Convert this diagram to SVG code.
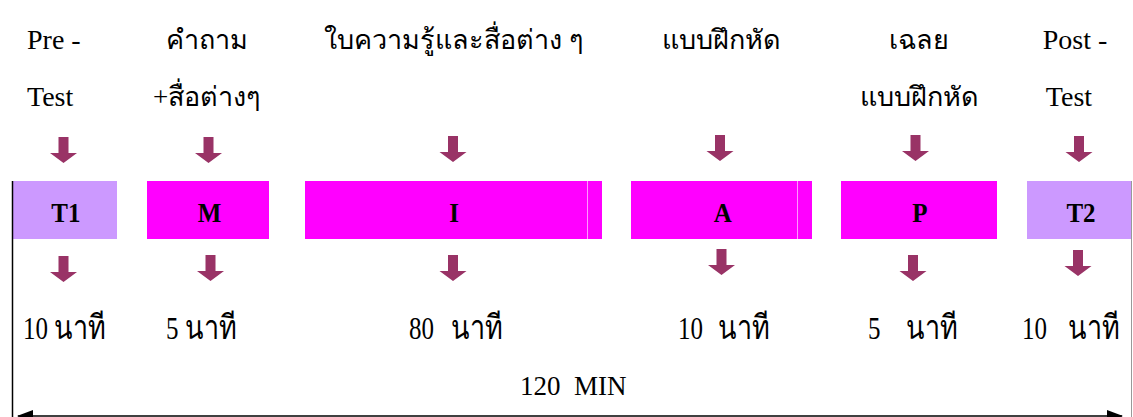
<svg xmlns="http://www.w3.org/2000/svg" width="1133" height="417" viewBox="0 0 1133 417">
<style>
text{font-family:"Liberation Serif",serif;fill:#000;white-space:pre}
.lt{font-size:28px}
.th{font-size:27px;font-weight:300}
.dg{font-size:25px}
.box-t{font-size:25px;font-weight:bold;text-anchor:middle}
.mag{fill:#FF00FF}
.lil{fill:#CC99FF}
.arr{fill:#993366}
.div{stroke:#FF99FF;stroke-width:1}
</style>
<defs>
<path id="da" d="M-5,0 H5 V16 H13.5 L0,26 L-13.5,16 H-5 Z"/>
<marker id="ah" viewBox="0 0 16 12" refX="15" refY="6" markerWidth="16" markerHeight="12" markerUnits="userSpaceOnUse" orient="auto-start-reverse">
<path d="M0,0 L16,6 L0,12 Z" fill="#000"/>
</marker>
</defs>
<rect width="1133" height="417" fill="#fff"/>

<g id="labels-top">
<text class="lt" x="27" y="49">Pre -</text>
<text class="lt" x="27" y="106">Test</text>
<text class="th" x="207" y="49" text-anchor="middle">คำถาม</text>
<text class="th" x="207" y="106" text-anchor="middle">+สื่อต่างๆ</text>
<text class="th" x="454" y="49" text-anchor="middle">ใบความรู้และสื่อต่าง ๆ</text>
<text class="th" x="721" y="49" text-anchor="middle">แบบฝึกหัด</text>
<text class="th" x="919" y="49" text-anchor="middle">เฉลย</text>
<text class="th" x="919" y="106" text-anchor="middle">แบบฝึกหัด</text>
<text class="lt" x="1075" y="49" text-anchor="middle">Post -</text>
<text class="lt" x="1069" y="106" text-anchor="middle">Test</text>
</g>

<g id="node-T1"><rect class="lil" x="12" y="181" width="105" height="58"/><text class="box-t" transform="translate(65.8,222) scale(1,1.12)">T1</text></g>
<g id="node-M"><rect class="mag" x="147" y="181" width="122" height="58"/><text class="box-t" transform="translate(209.5,222) scale(1,1.12)">M</text></g>
<g id="node-I"><rect class="mag" x="305" y="181" width="297" height="58"/><line class="div" x1="587.5" y1="181" x2="587.5" y2="239"/><text class="box-t" transform="translate(454,222) scale(1,1.12)">I</text></g>
<g id="node-A"><rect class="mag" x="631" y="181" width="181" height="58"/><line class="div" x1="797.5" y1="181" x2="797.5" y2="239"/><text class="box-t" transform="translate(722.7,222) scale(1,1.12)">A</text></g>
<g id="node-P"><rect class="mag" x="841" y="181" width="156" height="58"/><text class="box-t" transform="translate(920,222) scale(1,1.12)">P</text></g>
<g id="node-T2"><rect class="lil" x="1027" y="181" width="104" height="58"/><text class="box-t" transform="translate(1081,222) scale(1,1.12)">T2</text></g>

<g id="connectors">
<use href="#da" class="arr" x="63.5" y="137"/>
<use href="#da" class="arr" x="208.5" y="137"/>
<use href="#da" class="arr" x="453" y="136"/>
<use href="#da" class="arr" x="720" y="135"/>
<use href="#da" class="arr" x="915.5" y="135"/>
<use href="#da" class="arr" x="1079" y="136"/>
<use href="#da" class="arr" x="63.5" y="256"/>
<use href="#da" class="arr" x="210.5" y="255"/>
<use href="#da" class="arr" x="453" y="255"/>
<use href="#da" class="arr" x="721.5" y="249"/>
<use href="#da" class="arr" x="913" y="255"/>
<use href="#da" class="arr" x="1078" y="250"/>
<line x1="12.5" y1="181" x2="12.5" y2="417" stroke="#000" stroke-width="1.5"/>
<line x1="1131.5" y1="181" x2="1131.5" y2="417" stroke="#999" stroke-width="1"/>
<line x1="18" y1="416" x2="1122" y2="416" stroke="#000" stroke-width="1.5" marker-start="url(#ah)" marker-end="url(#ah)"/>
</g>

<g id="labels-bottom">
<g transform="translate(0,339) scale(1,1.25)">
<text class="dg" x="23" y="0">10</text><text class="th" x="54" y="0">นาที</text>
<text class="dg" x="166" y="0">5</text><text class="th" x="185" y="0">นาที</text>
<text class="dg" x="409" y="0">80</text><text class="th" x="451" y="0">นาที</text>
<text class="dg" x="678" y="0">10</text><text class="th" x="718" y="0">นาที</text>
<text class="dg" x="868" y="0">5</text><text class="th" x="906" y="0">นาที</text>
<text class="dg" x="1022" y="0">10</text><text class="th" x="1068" y="0">นาที</text>
</g>
<text class="lt" x="520" y="395" style="font-size:27px">120  MIN</text>
</g>
</svg>
